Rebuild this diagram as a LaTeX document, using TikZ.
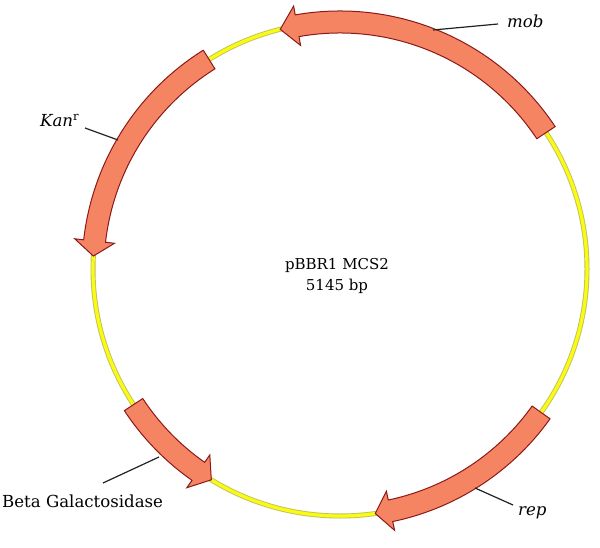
\documentclass[tikz,border=0pt]{standalone}
\usepackage{fontspec}
\setmainfont{DejaVu Serif}
\usepackage{tikz}
\definecolor{genefill}{RGB}{245,133,98}
\definecolor{genedraw}{RGB}{140,25,25}
\definecolor{bbyellow}{RGB}{250,250,20}
\definecolor{bbedge}{RGB}{190,195,90}
\definecolor{leader}{RGB}{30,35,35}
\tikzset{
  gene/.style={fill=genefill, draw=genedraw, line width=1pt, line join=miter},
  leaderline/.style={draw=leader, line width=1.2pt},
  lbl/.style={inner sep=0pt, font=\fontsize{16.6}{20}\selectfont},
  ctr/.style={inner sep=0pt, font=\fontsize{15}{18}\selectfont}
}
\newcommand\genearrow[3]{% tail angle, tip angle, head base angle
  \path[gene] (#1:258pt) arc[start angle=#1, end angle=#3, radius=258pt]
    -- (#3:267pt) -- (#2:247pt) -- (#3:227pt) -- (#3:236pt)
    arc[start angle=#3, end angle=#1, radius=236pt] -- cycle;}
\begin{document}
\begin{tikzpicture}[x=1pt,y=1pt]
\useasboundingbox (0,0) rectangle (600,547);
\fill[white] (0,0) rectangle (600,547);
\begin{scope}[shift={(340,278)}]
  \coordinate (c) at (0,0);
  \draw[bbedge, line width=5pt] (c) circle[radius=247pt];
  \draw[bbyellow, line width=3.2pt] (c) circle[radius=247pt];
  \genearrow{33.5}{104}{100}
  \genearrow{122}{177}{173.5}
  \genearrow{213.3}{238.6}{235}
  \genearrow{324.5}{278.2}{281.8}
\end{scope}
% center label
\node[ctr, anchor=base] (name) at (337,277) {pBBR1 MCS2};
\node[ctr, anchor=base] (size) at (337,256) {5145 bp};
% gene labels
\node[lbl, anchor=base west] (mob) at (507,519) {\textit{mob}};
\node[lbl, anchor=base west] (kan) at (40,420) {\textit{Kan}\textsuperscript{r}};
\node[lbl, anchor=base west] (beta) at (2,40) {Beta Galactosidase};
\node[lbl, anchor=base west] (rep) at (518,32) {\textit{rep}};
% leader lines
\coordinate (mobA) at (433,517); \coordinate (mobB) at (498,523);
\coordinate (kanA) at (118,407); \coordinate (kanB) at (85,419);
\coordinate (betaA) at (159,90); \coordinate (betaB) at (103,64);
\coordinate (repA) at (475,59); \coordinate (repB) at (513,42);
\draw[leaderline] (mobA) -- (mobB);
\draw[leaderline] (kanA) -- (kanB);
\draw[leaderline] (betaA) -- (betaB);
\draw[leaderline] (repA) -- (repB);
\end{tikzpicture}
\end{document}
